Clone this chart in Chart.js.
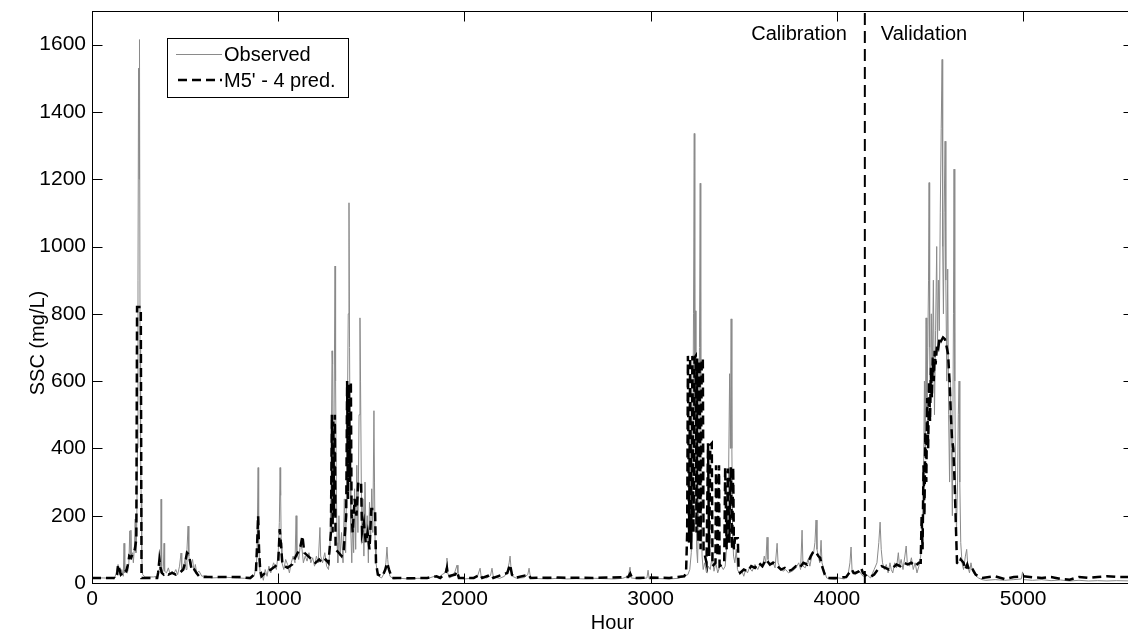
<!DOCTYPE html>
<html>
<head>
<meta charset="utf-8">
<script src="https://cdn.jsdelivr.net/npm/chart.js@4.4.1/dist/chart.umd.min.js"></script>
<style>
  html, body { margin: 0; padding: 0; background: #fff; overflow: hidden; width: 1128px; height: 635px; }
  #wrap { width: 1140px; height: 635px; }
  canvas { display: block; }
</style>
</head>
<body>
<div id="wrap"><canvas id="chart" width="1140" height="635"></canvas></div>
<script>
// Axis ticks and limits
const xTicks = [0, 1000, 2000, 3000, 4000, 5000];
const yTicks = [0, 200, 400, 600, 800, 1000, 1200, 1400, 1600];
const hourRange = [0, 5590];
const sscRange = [0, 1700];

// Calibration / validation split
const splitHour = 4150;
const phaseNames = ['Calibration', 'Validation'];
const seriesNames = ['Observed', "M5' - 4 pred."];
const axisTitles = ['Hour', 'SSC (mg/L)'];

// Observed SSC (mg/L), [hour, value]
const observed = [
  [0,15],[60,15],[110,14],[120,12],[130,30],[140,55],[145,35],[150,25],[160,40],[168,20],[172,118],[176,30],
  [185,50],[192,35],[198,60],[203,155],[207,70],[209,157],[212,80],[218,90],[222,60],[228,110],[232,190],
  [236,90],[240,150],[244,400],[247,900],[250,1530],[253,1200],[255,1615],[258,700],[261,400],[264,250],
  [267,80],[272,25],[285,18],[330,18],[350,20],[360,40],[365,60],[369,30],[371,249],[374,50],[378,30],
  [383,40],[387,118],[390,35],[400,30],[410,45],[420,25],[430,35],[440,28],[450,40],[460,25],[470,50],
  [478,89],[482,35],[490,45],[500,70],[505,40],[510,100],[516,169],[520,80],[525,60],[530,50],[540,70],
  [548,35],[555,55],[562,30],[575,35],[590,20],[610,22],[640,15],[680,16],[720,17],[780,15],[820,14],
  [850,12],[870,20],[880,45],[886,80],[892,343],[895,150],[899,60],[904,20],[910,35],[920,8],[930,40],
  [940,20],[950,50],[960,30],[975,60],[990,40],[1000,90],[1006,180],[1010,343],[1013,260],[1016,120],
  [1020,60],[1030,40],[1040,70],[1050,55],[1060,30],[1070,60],[1080,80],[1090,60],[1096,200],[1100,90],
  [1110,70],[1120,120],[1128,100],[1135,60],[1145,80],[1155,65],[1165,90],[1175,60],[1185,75],[1195,50],
  [1205,80],[1215,60],[1224,165],[1228,80],[1238,60],[1250,90],[1260,50],[1270,40],[1278,110],[1284,300],
  [1289,690],[1292,650],[1295,200],[1300,500],[1305,942],[1308,600],[1312,300],[1316,120],[1320,60],
  [1326,200],[1332,80],[1340,150],[1348,60],[1355,250],[1362,90],[1370,400],[1376,800],[1380,1130],
  [1383,700],[1386,400],[1390,150],[1395,60],[1400,200],[1405,90],[1410,280],[1416,100],[1422,350],
  [1428,150],[1434,500],[1439,788],[1442,600],[1446,300],[1450,120],[1455,250],[1460,80],[1466,300],
  [1472,130],[1478,200],[1484,60],[1490,240],[1496,120],[1502,280],[1508,150],[1514,512],[1517,300],
  [1520,120],[1525,60],[1530,40],[1540,20],[1555,15],[1570,30],[1578,60],[1584,107],[1588,70],[1593,40],
  [1600,20],[1620,12],[1650,14],[1700,12],[1750,14],[1800,13],[1840,20],[1860,15],[1880,25],[1895,30],
  [1902,45],[1906,74],[1910,30],[1920,15],[1935,20],[1950,35],[1960,53],[1965,30],[1975,15],[2000,12],
  [2040,14],[2070,20],[2084,44],[2090,18],[2120,15],[2140,22],[2148,44],[2155,18],[2190,14],[2215,20],
  [2230,35],[2240,60],[2245,80],[2250,45],[2258,20],[2280,14],[2320,16],[2340,25],[2347,44],[2355,15],
  [2400,13],[2450,12],[2500,14],[2550,12],[2600,13],[2650,12],[2700,14],[2750,13],[2800,12],[2850,14],
  [2880,20],[2889,47],[2895,15],[2940,12],[2980,15],[2986,38],[2992,12],[3050,13],[3100,12],[3150,14],
  [3180,20],[3200,25],[3210,40],[3218,90],[3224,200],[3230,800],[3234,1336],[3237,500],[3240,809],
  [3243,300],[3247,100],[3252,60],[3258,250],[3262,700],[3266,1188],[3269,600],[3272,200],[3276,80],
  [3282,40],[3290,60],[3300,30],[3310,50],[3320,40],[3330,80],[3340,35],[3350,60],[3360,30],[3375,55],
  [3390,40],[3400,50],[3410,120],[3418,300],[3424,622],[3428,400],[3432,785],[3436,400],[3440,150],
  [3445,80],[3452,60],[3460,100],[3466,40],[3475,30],[3490,35],[3500,20],[3510,40],[3520,30],[3530,45],
  [3545,35],[3560,55],[3575,40],[3590,60],[3600,45],[3610,80],[3618,60],[3625,136],[3630,70],[3640,50],
  [3655,65],[3668,45],[3679,118],[3684,60],[3695,45],[3710,35],[3725,40],[3740,30],[3760,35],[3780,45],
  [3795,60],[3805,40],[3813,157],[3818,50],[3830,45],[3845,70],[3855,50],[3865,80],[3875,90],[3882,120],
  [3888,187],[3893,100],[3900,80],[3908,60],[3915,127],[3920,60],[3930,40],[3945,15],[3960,12],[3990,10],
  [4010,15],[4040,12],[4060,25],[4070,60],[4076,107],[4082,30],[4100,25],[4120,35],[4140,20],[4160,25],
  [4180,15],[4200,40],[4215,60],[4225,120],[4232,181],[4238,100],[4245,60],[4255,40],[4265,55],[4275,30],
  [4285,60],[4292,40],[4300,30],[4310,60],[4320,45],[4330,90],[4336,50],[4345,70],[4355,40],[4365,80],
  [4372,110],[4378,60],[4390,50],[4400,75],[4410,40],[4420,60],[4430,30],[4440,50],[4450,80],[4458,150],
  [4465,300],[4470,600],[4474,400],[4479,788],[4483,500],[4488,700],[4492,900],[4495,1190],[4498,700],
  [4502,500],[4507,800],[4512,600],[4518,900],[4524,500],[4530,750],[4536,1000],[4540,700],[4545,900],
  [4550,750],[4555,1100],[4560,1350],[4565,1556],[4568,1000],[4572,800],[4576,1100],[4581,1313],
  [4585,900],[4590,600],[4595,933],[4600,500],[4605,300],[4610,600],[4615,400],[4620,200],[4626,800],
  [4629,1230],[4633,600],[4637,300],[4642,150],[4648,300],[4652,500],[4656,600],[4660,300],[4665,120],
  [4672,60],[4680,40],[4690,80],[4697,100],[4703,50],[4712,30],[4720,60],[4728,35],[4740,25],[4760,15],
  [4780,10],[4800,8],[4850,10],[4900,8],[4950,10],[4990,12],[4997,33],[5003,10],[5050,8],[5100,10],
  [5150,7],[5200,9],[5250,6],[5300,8],[5350,6],[5400,7],[5450,6],[5500,7],[5590,6]
];

// Model M5' - 4 predictions (mg/L), [hour, value]
const predicted = [
  [0,15],[120,15],[125,12],[135,25],[140,55],[148,40],[155,25],[165,30],[175,40],[185,35],[195,60],
  [200,80],[210,75],[220,90],[230,100],[238,130],[242,820],[262,820],[266,15],[290,15],[350,15],[355,30],
  [362,70],[368,45],[375,30],[385,25],[395,30],[410,25],[430,30],[450,25],[470,30],[490,40],[500,60],
  [510,90],[520,85],[528,60],[535,40],[545,45],[560,30],[575,20],[600,18],[700,18],[800,18],[820,16],
  [850,15],[880,30],[887,120],[892,200],[897,100],[903,40],[910,20],[920,25],[940,35],[960,40],[985,50],
  [1000,60],[1008,160],[1015,110],[1022,60],[1035,50],[1050,45],[1075,55],[1095,80],[1105,90],[1120,110],
  [1130,140],[1140,90],[1160,80],[1180,70],[1200,60],[1220,70],[1235,60],[1255,70],[1270,60],[1283,150],
  [1288,500],[1292,150],[1296,480],[1300,200],[1304,500],[1308,100],[1325,90],[1340,80],[1352,100],
  [1365,200],[1370,600],[1375,250],[1380,590],[1385,300],[1390,600],[1394,200],[1400,150],[1410,250],
  [1420,200],[1430,300],[1445,300],[1450,150],[1460,180],[1470,120],[1480,150],[1490,100],[1500,220],
  [1520,220],[1525,60],[1535,25],[1560,20],[1575,40],[1585,60],[1595,40],[1610,15],[1650,15],[1700,14],
  [1800,15],[1850,20],[1870,15],[1900,30],[1906,45],[1912,20],[1950,25],[1960,35],[1970,15],[2050,15],
  [2085,25],[2095,15],[2145,25],[2155,15],[2230,30],[2245,55],[2255,25],[2270,15],[2345,25],[2355,15],
  [2500,16],[2700,15],[2880,18],[2890,28],[2900,15],[3000,16],[3100,15],[3180,20],[3190,30],[3196,150],
  [3200,675],[3206,120],[3212,670],[3218,100],[3224,675],[3230,150],[3236,670],[3242,675],[3246,150],
  [3250,667],[3256,120],[3262,660],[3268,100],[3274,667],[3280,667],[3284,100],[3300,60],[3308,415],
  [3314,80],[3320,410],[3328,415],[3332,50],[3348,60],[3351,350],[3359,80],[3367,350],[3370,50],[3395,60],
  [3400,344],[3408,100],[3415,340],[3422,120],[3430,344],[3437,100],[3443,344],[3447,100],[3453,133],
  [3468,133],[3472,40],[3480,30],[3500,40],[3520,35],[3540,50],[3560,45],[3580,60],[3600,50],[3620,70],
  [3640,55],[3660,60],[3680,50],[3700,40],[3720,45],[3740,35],[3760,40],[3780,50],[3800,45],[3820,60],
  [3840,55],[3860,80],[3870,90],[3880,95],[3890,90],[3900,80],[3910,75],[3920,50],[3935,25],[3950,15],
  [4000,15],[4050,18],[4080,40],[4090,30],[4100,30],[4120,35],[4130,45],[4140,30],[4160,20],[4180,18],
  [4200,25],[4220,40],[4240,50],[4260,45],[4280,40],[4300,45],[4320,55],[4340,50],[4360,60],[4380,55],
  [4400,60],[4420,50],[4440,60],[4450,60],[4455,200],[4460,100],[4465,350],[4470,200],[4475,450],
  [4480,300],[4485,550],[4490,400],[4495,600],[4500,480],[4505,640],[4510,550],[4515,670],[4520,600],
  [4525,690],[4530,650],[4538,710],[4545,700],[4552,730],[4560,720],[4570,730],[4580,725],[4590,700],
  [4597,680],[4605,600],[4612,500],[4618,430],[4625,400],[4632,300],[4640,150],[4645,60],[4655,55],
  [4665,70],[4680,60],[4690,40],[4700,55],[4712,35],[4730,40],[4745,25],[4760,20],[4780,15],[4850,20],
  [4900,12],[4950,18],[5000,20],[5050,17],[5100,15],[5150,18],[5200,12],[5250,10],[5300,18],[5350,15],
  [5400,18],[5450,20],[5500,18],[5590,18]
];

const FONT = '"Liberation Sans", Arial, Helvetica, sans-serif';
const OBS_COLOR = '#8a8a8a';
const PRED_DASH = [9, 5];

const toXY = arr => arr.map(([h, v]) => ({ x: h, y: v }));

// Box frame with inward ticks on all four sides, y title, phase labels and legend
const framePlugin = {
  id: 'frame',
  afterDatasetsDraw(chart) {
    const { ctx, chartArea: a, scales: { x, y } } = chart;
    ctx.save();
    ctx.strokeStyle = '#000';
    ctx.lineWidth = 1;
    ctx.setLineDash([]);
    const L = Math.round(a.left) + 0.5, R = Math.round(a.right) + 0.5;
    const T = Math.round(a.top) + 0.5, B = Math.round(a.bottom) + 0.5;
    ctx.strokeRect(L, T, R - L, B - T);
    ctx.beginPath();
    xTicks.forEach(v => {
      const px = Math.round(x.getPixelForValue(v)) + 0.5;
      ctx.moveTo(px, B); ctx.lineTo(px, B - 10);
      ctx.moveTo(px, T); ctx.lineTo(px, T + 10);
    });
    yTicks.forEach(v => {
      const py = Math.round(y.getPixelForValue(v)) + 0.5;
      ctx.moveTo(L, py); ctx.lineTo(L + 10, py);
      ctx.moveTo(R, py); ctx.lineTo(R - 10, py);
    });
    ctx.stroke();

    ctx.fillStyle = '#000';
    ctx.font = '20px ' + FONT;

    // y-axis title, rotated
    ctx.save();
    ctx.translate(38, 343);
    ctx.rotate(-Math.PI / 2);
    ctx.textAlign = 'center';
    ctx.textBaseline = 'middle';
    ctx.fillText(axisTitles[1], 0, 0);
    ctx.restore();

    // phase labels either side of the split line
    ctx.textBaseline = 'middle';
    const sx = x.getPixelForValue(splitHour);
    ctx.textAlign = 'right';
    ctx.fillText(phaseNames[0], sx - 18, 34);
    ctx.textAlign = 'left';
    ctx.fillText(phaseNames[1], sx + 16, 34);

    // legend box
    const bx = 167.5, by = 38.5, bw = 181, bh = 59;
    ctx.fillStyle = '#fff';
    ctx.fillRect(bx, by, bw, bh);
    ctx.strokeStyle = '#000';
    ctx.lineWidth = 1;
    ctx.strokeRect(bx, by, bw, bh);

    ctx.beginPath();
    ctx.strokeStyle = OBS_COLOR;
    ctx.lineWidth = 1;
    ctx.moveTo(176, 54.5); ctx.lineTo(222, 54.5);
    ctx.stroke();

    ctx.beginPath();
    ctx.strokeStyle = '#000';
    ctx.lineWidth = 2.5;
    ctx.setLineDash(PRED_DASH);
    ctx.moveTo(178, 80); ctx.lineTo(222, 80);
    ctx.stroke();
    ctx.setLineDash([]);

    ctx.fillStyle = '#000';
    ctx.textAlign = 'left';
    ctx.textBaseline = 'middle';
    ctx.font = '20px ' + FONT;
    ctx.fillText(seriesNames[0], 224, 55);
    ctx.fillText(seriesNames[1], 224, 81);
    ctx.restore();
  }
};

new Chart(document.getElementById('chart'), {
  type: 'line',
  data: {
    datasets: [
      {
        label: seriesNames[0],
        data: toXY(observed),
        borderColor: OBS_COLOR,
        borderWidth: 1,
        pointRadius: 0,
        tension: 0,
        order: 2
      },
      {
        label: seriesNames[1],
        data: toXY(predicted),
        borderColor: '#000',
        borderWidth: 2.5,
        borderDash: PRED_DASH,
        pointRadius: 0,
        tension: 0,
        order: 1
      },
      {
        label: 'split',
        data: [{ x: splitHour, y: sscRange[0] }, { x: splitHour, y: sscRange[1] }],
        borderColor: '#000',
        borderWidth: 2,
        borderDash: [12, 6],
        pointRadius: 0,
        order: 0
      }
    ]
  },
  options: {
    responsive: false,
    animation: false,
    devicePixelRatio: 1,
    layout: { padding: { left: 0, top: 11, right: 7, bottom: 0 } },
    plugins: { legend: { display: false }, tooltip: { enabled: false } },
    scales: {
      x: {
        type: 'linear',
        min: hourRange[0],
        max: hourRange[1],
        grid: { display: false, drawTicks: false },
        border: { display: false },
        afterBuildTicks: s => { s.ticks = xTicks.map(v => ({ value: v })); },
        afterFit: s => { s.height = 52; s.paddingLeft = 0; s.paddingRight = 0; },
        ticks: { padding: 4, color: '#000', font: { family: FONT, size: 21 }, maxRotation: 0, includeBounds: false, callback: v => String(v) },
        title: { display: true, text: axisTitles[0], color: '#000', font: { family: FONT, size: 20 }, padding: { top: 0, bottom: 0 } }
      },
      y: {
        type: 'linear',
        min: sscRange[0],
        max: sscRange[1],
        grid: { display: false, drawTicks: false },
        border: { display: false },
        afterBuildTicks: s => { s.ticks = yTicks.map(v => ({ value: v })); },
        afterFit: s => { s.width = 92; s.paddingTop = 0; s.paddingBottom = 0; },
        ticks: { padding: 6, color: '#000', font: { family: FONT, size: 21 }, includeBounds: false, callback: v => String(v) },
        title: { display: false }
      }
    }
  },
  plugins: [framePlugin]
});
</script>
</body>
</html>
